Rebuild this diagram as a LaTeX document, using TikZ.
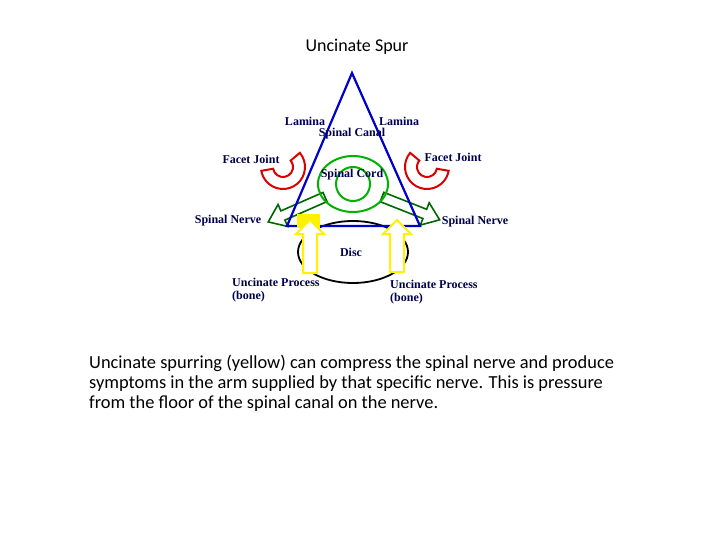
\documentclass[tikz,border=0pt]{standalone}
\usepackage{fontspec}
\setmainfont{Liberation Serif}
\newfontfamily\capfont{Carlito}
\begin{document}
\begin{tikzpicture}[x=1pt,y=-1pt,
  lbl/.style={font=\bfseries\fontsize{12}{12.5}\selectfont, text=blue!30!black, inner sep=0pt},
  nerve/.style={draw=green!40!black, line width=1.6pt, fill=white},
  spur/.style={draw=yellow, line width=2pt, fill=white},
  facet/.style={draw=red!85!black, line width=2pt, fill=white}]
\useasboundingbox (0,0) rectangle (720,540);
% disc
\draw[line width=1.8pt] (353,252) ellipse [x radius=55, y radius=31];
% facet joints
\draw[facet] (283,167) ++(-40:22) arc[start angle=-40, end angle=170, radius=22] -- ++(-10:12) arc[start angle=170, end angle=-40, radius=10] -- cycle;
\draw[facet] (427,167) ++(220:22) arc[start angle=220, end angle=10, radius=22] -- ++(190:12) arc[start angle=10, end angle=220, radius=10] -- cycle;
% nerves
\begin{scope}[shift={(325,197)}, rotate=203.7]
\draw[nerve] (0,-5) -- (46,-5) -- (46,-12) -- (62,0) -- (46,12) -- (46,5) -- (0,5) -- cycle;
\end{scope}
\begin{scope}[shift={(382,197)}, rotate=-21.6]
\draw[nerve] (0,-5) -- (46,-5) -- (46,-12) -- (62,0) -- (46,12) -- (46,5) -- (0,5) -- cycle;
\end{scope}
% spinal cord
\draw[green!70!black, line width=2pt] (353,184) ellipse [x radius=35, y radius=28];
\draw[green!70!black, line width=2pt] (353,184) ellipse [x radius=17, y radius=17];
% triangle
\draw[blue!80!black, line width=2.2pt, line join=miter] (352,73) -- (420,226) -- (287,226) -- cycle;
% yellow
\fill[yellow] (297,214) rectangle (320,228);
\draw[spur] (303,273) -- (303,234) -- (296,234) -- (310,220) -- (324,234) -- (317,234) -- (317,273) -- cycle;
\draw[spur] (390,272) -- (390,234) -- (383,234) -- (397,220) -- (411,234) -- (404,234) -- (404,272) -- cycle;
% labels
\node[lbl] (lam1) at (305,121) {Lamina};
\node[lbl] (lam2) at (399,121) {Lamina};
\node[lbl] (canal) at (352,134) {Spinal Canal};
\node[lbl] (fj1) at (251,159) {Facet Joint};
\node[lbl] (fj2) at (453,157) {Facet Joint};
\node[lbl] (cord) at (352,175) {Spinal Cord};
\node[lbl] (sn1) at (228,221) {Spinal Nerve};
\node[lbl] (sn2) at (475,222) {Spinal Nerve};
\node[lbl] (disc) at (351,252) {Disc};
\node[lbl, anchor=west, align=left] (up1) at (232,290) {Uncinate Process\\(bone)};
\node[lbl, anchor=west, align=left] (up2) at (390,292) {Uncinate Process\\(bone)};
\node[font=\capfont\fontsize{18}{20}\selectfont, inner sep=0pt] (title) at (357,47) {Uncinate Spur};
\node[font=\capfont\fontsize{18.4}{20}\selectfont, anchor=north west, align=left, inner sep=0pt] (cap) at (89,355)
 {Uncinate spurring (yellow) can compress the spinal nerve and produce\\symptoms in the arm supplied by that specific nerve. This is pressure\\from the floor of the spinal canal on the nerve.};
\end{tikzpicture}
\end{document}
